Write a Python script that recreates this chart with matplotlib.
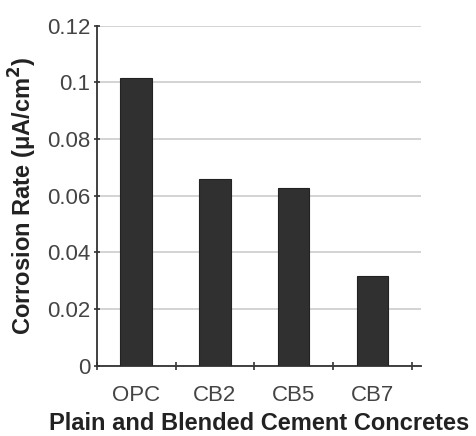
import matplotlib.pyplot as plt
import numpy as np

plt.rcParams['font.family'] = ['Liberation Sans', 'DejaVu Sans']

categories = ["OPC", "CB2", "CB5", "CB7"]
corrosion_rate = [0.1015, 0.0658, 0.0626, 0.0317]

fig = plt.figure(figsize=(4.77, 4.36), dpi=100)
ax = fig.add_axes([0.203, 0.161, 0.68, 0.780])

x = np.arange(len(categories))
ax.bar(x, corrosion_rate, width=0.4, color="#303030", edgecolor="#222222", linewidth=0.8, zorder=3)

ax.set_ylim(0, 0.12)
ax.set_yticks([0, 0.02, 0.04, 0.06, 0.08, 0.1, 0.12])
ax.set_yticklabels(["0", "0.02", "0.04", "0.06", "0.08", "0.1", "0.12"])
ax.set_xlim(-0.5, 3.62)
ax.set_xticks(x)
ax.set_xticklabels(categories)
ax.set_xticks(np.arange(-0.5, 4, 1), minor=True)
ax.tick_params(axis="x", which="major", length=0, pad=14, labelsize=16, labelcolor="#444444")
ax.tick_params(axis="x", which="minor", length=6, width=1.2, direction="inout", color="#333333")
ax.tick_params(axis="y", length=5, width=1.2, direction="inout", labelsize=16, labelcolor="#444444", color="#333333", pad=2)

ax.grid(axis="y", color="#cccccc", linewidth=1.2, zorder=0)
for s in ["top", "right"]:
    ax.spines[s].set_visible(False)
for s in ["left", "bottom"]:
    ax.spines[s].set_linewidth(1.3)
    ax.spines[s].set_color("#333333")

ax.set_xlabel("Plain and Blended Cement Concretes", fontsize=17, fontweight="bold", color="#222222", labelpad=4)
ax.set_ylabel("Corrosion Rate (μA/cm$^\\mathbf{2}$)", fontsize=17, fontweight="bold", color="#222222", labelpad=6)

fig.savefig("out.png", dpi=100)
